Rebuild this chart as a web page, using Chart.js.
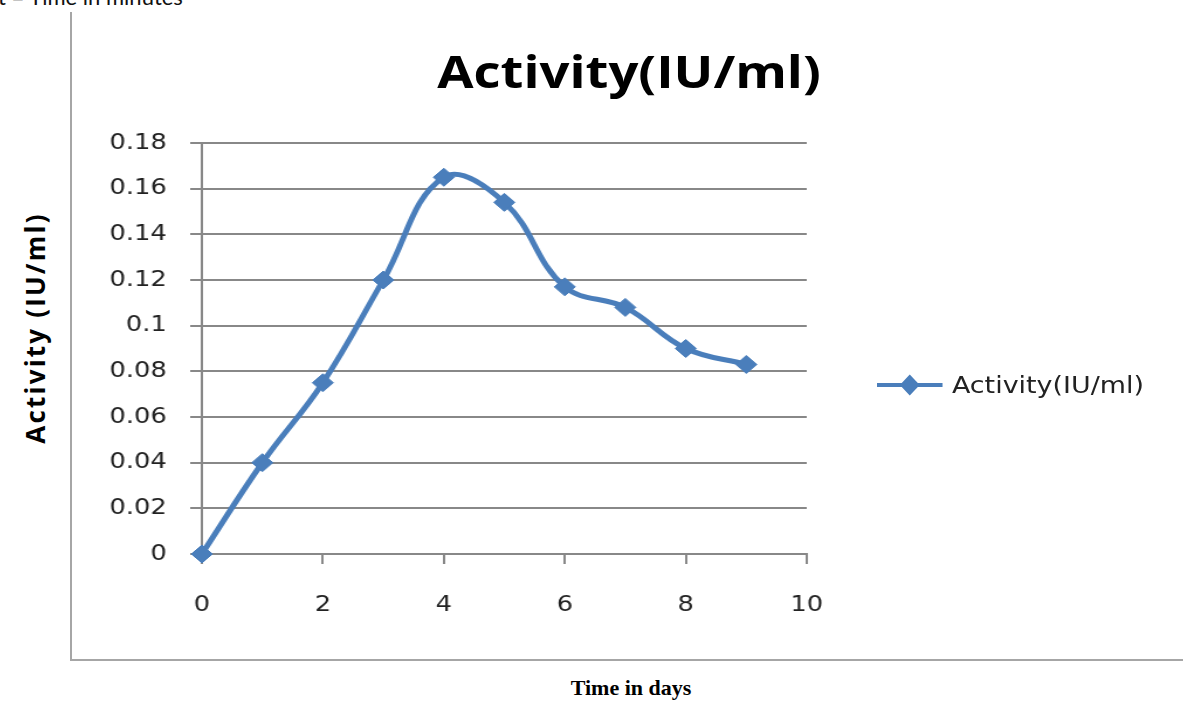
<!DOCTYPE html>
<html>
<head>
<meta charset="utf-8">
<title>Activity(IU/ml)</title>
<script src="https://cdn.jsdelivr.net/npm/chart.js@4.4.0/dist/chart.umd.min.js"></script>
<style>
  html, body { margin:0; padding:0; background:#fff; }
  body { width:1183px; height:702px; overflow:hidden; position:relative; }
  .note { position:absolute; left:-2px; top:-14px; font:22px Lato, sans-serif; line-height:22px; color:#111; white-space:nowrap; }
  .frame-left { position:absolute; left:70px; top:12px; width:2px; height:649px; background:#a6a6a6; }
  .frame-bottom { position:absolute; left:70px; top:659px; width:1113px; height:2px; background:#a6a6a6; }
  /* the original picture is stretched sideways, so the chart parts are too */
  .graph { position:absolute; left:72px; top:12px; width:949px; height:646px; transform:scaleX(1.17); transform-origin:0 0; }
  h1.title { position:absolute; left:629px; top:70px; margin:0; transform:translate(-50%,-50%) scaleX(1.17);
             font:bold 45px "Open Sans", sans-serif; line-height:1; white-space:nowrap; color:#000; }
  .legend { position:absolute; left:877px; top:385px; transform:translateY(-50%) scaleX(1.17); transform-origin:0 50%;
            display:flex; align-items:center; white-space:nowrap; }
  .legend .key { position:relative; width:56px; height:20px; margin-right:8px; }
  .legend .key .ln { position:absolute; left:0; top:8px; width:56px; height:4px; }
  .legend .key .dm { position:absolute; left:22px; top:4px; width:12px; height:12px; transform:scaleY(1.25) rotate(45deg); }
  .legend .txt { font:23px "DejaVu Sans", sans-serif; color:#222; }
  .ytitle { position:absolute; left:35px; top:328px; transform:translate(-50%,-50%) rotate(-90deg); font:bold 26px "Open Sans", sans-serif; letter-spacing:2.2px; white-space:nowrap; color:#000; }
  .xtitle { position:absolute; left:631px; top:688px; transform:translate(-50%,-50%); font:bold 22px "Liberation Serif", serif; white-space:nowrap; color:#000; }
</style>
</head>
<body>
<div class="note">t = Time in minutes</div>
<div class="frame-left"></div>
<div class="frame-bottom"></div>
<h1 class="title"></h1>
<div class="graph"><canvas id="activity-chart"></canvas></div>
<div class="legend"><div class="key"><div class="ln"></div><div class="dm"></div></div><span class="txt"></span></div>
<div class="ytitle">Activity (IU/ml)</div>
<div class="xtitle">Time in days</div>
<script>
var days = [0, 1, 2, 3, 4, 5, 6, 7, 8, 9];
var activity = [0, 0.040, 0.075, 0.120, 0.165, 0.154, 0.117, 0.108, 0.090, 0.083];
var xTickLabels = ["0", "2", "4", "6", "8", "10"];
var yTickLabels = ["0", "0.02", "0.04", "0.06", "0.08", "0.1", "0.12", "0.14", "0.16", "0.18"];
var seriesName = "Activity(IU/ml)";

var main = function () {
    "use strict";
    var lineColor = "#4A7EBB";
    var gridColor = "#888888";
    var tickFont = {family: "'DejaVu Sans'", size: 22};

    //Title and legend part (plain html, like the chart box in the document)
    document.querySelector("h1.title").textContent = seriesName;
    document.querySelector(".legend .txt").textContent = seriesName;
    document.querySelector(".legend .ln").style.background = lineColor;
    document.querySelector(".legend .dm").style.background = lineColor;

    var points = days.map(function (d, i) { return {x: d, y: activity[i]}; });

    //Chart part
    new Chart("activity-chart", {
        type: "line",
        data: {
            datasets: [{
                label: seriesName,
                data: points,
                borderColor: lineColor,
                backgroundColor: lineColor,
                borderWidth: 5,
                tension: 0.4,
                pointStyle: "rectRot",
                pointRadius: 9,
                pointBorderWidth: 1,
                pointBackgroundColor: lineColor,
                pointBorderColor: lineColor,
                clip: false
            }]
        },
        options: {
            responsive: true,
            maintainAspectRatio: false,
            animation: false,
            layout: {padding: {left: 0, right: 321, top: 131, bottom: 0}},
            plugins: {
                title: {display: false},
                legend: {display: false},
                tooltip: {enabled: false}
            },
            scales: {
                x: {
                    type: "linear",
                    min: 0, max: 10,
                    afterFit: function (scale) { scale.height = 104; },
                    ticks: {
                        stepSize: 2,
                        padding: 28,
                        color: "#222",
                        font: tickFont,
                        callback: function (v, i) { return xTickLabels[i]; }
                    },
                    grid: {drawOnChartArea: false, drawTicks: true, tickLength: 10, color: gridColor, lineWidth: 2},
                    border: {display: true, color: gridColor, width: 2}
                },
                y: {
                    min: 0, max: 0.18,
                    afterFit: function (scale) { scale.width = 111; },
                    ticks: {
                        stepSize: 0.02,
                        padding: 20,
                        color: "#222",
                        font: tickFont,
                        callback: function (v, i) { return yTickLabels[i]; }
                    },
                    grid: {drawTicks: true, tickLength: 10, color: gridColor, lineWidth: 2},
                    border: {display: true, color: gridColor, width: 2}
                }
            }
        }
    });
};

main();
</script>
</body>
</html>
